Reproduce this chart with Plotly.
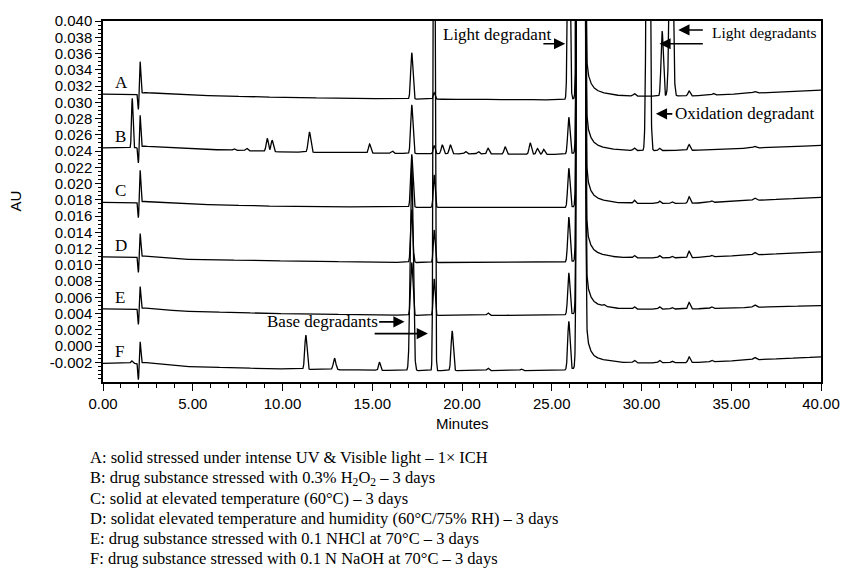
import numpy as np
import plotly.graph_objects as go

# ---- chromatogram data (retention time in minutes, response in AU) ----
labels = ["A", "B", "C", "D", "E", "F"]

# baseline drift anchors shared by all runs
base_t = [0, 1.8, 2.3, 4.5, 10, 17, 25.5, 28, 33, 40]
base_A = [0.0310, 0.0310, 0.0312, 0.0309, 0.0306, 0.0304, 0.0303, 0.0307, 0.0308, 0.0315]
base_B = [0.0244, 0.0244, 0.0246, 0.0243, 0.0239, 0.0237, 0.0236, 0.0240, 0.0241, 0.0247]
base_C = [0.0177, 0.0177, 0.0178, 0.0175, 0.0172, 0.0171, 0.0170, 0.0175, 0.0176, 0.0183]
base_D = [0.0110, 0.0110, 0.0111, 0.0107, 0.0105, 0.0103, 0.0103, 0.0108, 0.0109, 0.0116]
base_E = [0.0046, 0.0046, 0.0047, 0.0043, 0.0040, 0.0038, 0.0038, 0.0045, 0.0046, 0.0050]
base_F = [-0.0021, -0.0021, -0.0020, -0.0025, -0.0028, -0.0030, -0.0030, -0.0021, -0.0020, -0.0013]

# peak tables: retention time, height above baseline, width (sigma)
rt_A = [1.97, 2.07, 17.2, 18.45, 25.95, 29.6, 31.15, 31.65, 32.65, 34.0, 36.3]
h_A = [-0.0020, 0.0039, 0.0057, 0.0008, 0.030, 0.0003, 0.0080, 0.030, 0.0006, 0.0002, 0.0002]
w_A = [0.03, 0.035, 0.06, 0.05, 0.06, 0.06, 0.06, 0.085, 0.06, 0.06, 0.08]

rt_B = [1.63, 1.97, 2.07, 7.3, 8.0, 9.15, 9.42, 11.5, 14.85, 16.1, 17.2, 18.45, 18.9, 19.35,
        20.2, 20.9, 21.45, 22.4, 23.8, 24.2, 24.55, 25.95, 29.6, 30.37, 31.0, 32.65, 36.3]
h_B = [0.0061, -0.0020, 0.0039, 0.0002, 0.0003, 0.0016, 0.0014, 0.0025, 0.0011, 0.0003, 0.0060,
       0.0010, 0.0011, 0.0011, 0.0003, 0.0003, 0.0007, 0.0009, 0.0014, 0.0007, 0.0006, 0.0045,
       0.0003, 0.080, 0.0003, 0.0007, 0.0002]
w_B = [0.04, 0.03, 0.035, 0.06, 0.06, 0.06, 0.06, 0.07, 0.06, 0.06, 0.06, 0.05, 0.06, 0.06,
       0.06, 0.06, 0.06, 0.06, 0.06, 0.06, 0.06, 0.06, 0.06, 0.075, 0.06, 0.06, 0.08]

rt_C = [1.97, 2.07, 17.2, 18.45, 25.95, 29.6, 31.0, 31.7, 32.65, 33.9, 36.3]
h_C = [-0.0020, 0.0039, 0.0065, 0.0040, 0.0048, 0.0004, 0.0003, 0.0002, 0.0008, 0.0002, 0.0003]
w_C = [0.03, 0.035, 0.06, 0.05, 0.06, 0.06, 0.06, 0.06, 0.06, 0.06, 0.08]

rt_D = [1.97, 2.07, 17.2, 18.45, 25.95, 29.6, 31.0, 31.7, 32.65, 33.9, 36.3]
h_D = [-0.0020, 0.0028, 0.0065, 0.0040, 0.0055, 0.0003, 0.0003, 0.0002, 0.0008, 0.0002, 0.0003]
w_D = [0.03, 0.035, 0.06, 0.05, 0.06, 0.06, 0.06, 0.06, 0.06, 0.06, 0.08]

rt_E = [1.97, 2.07, 17.2, 18.45, 21.45, 25.95, 27.9, 29.6, 31.0, 31.7, 32.65, 33.9, 36.3]
h_E = [-0.0020, 0.0027, 0.0065, 0.0045, 0.0003, 0.0051, 0.0002, 0.0003, 0.0003, 0.0002, 0.0008, 0.0002, 0.0003]
w_E = [0.03, 0.035, 0.06, 0.05, 0.06, 0.06, 0.06, 0.06, 0.06, 0.06, 0.06, 0.06, 0.08]

rt_F = [1.6, 1.97, 2.07, 11.3, 12.9, 15.4, 17.2, 18.45, 19.45, 21.45, 23.3, 25.95,
        29.6, 31.0, 31.7, 32.65, 33.9, 36.3]
h_F = [0.0003, -0.0021, 0.0026, 0.0042, 0.0014, 0.0010, 0.0258, 0.100, 0.0049, 0.0003, 0.0002, 0.0059,
       0.0003, 0.0003, 0.0002, 0.0007, 0.0002, 0.0003]
w_F = [0.05, 0.03, 0.035, 0.06, 0.07, 0.05, 0.08, 0.045, 0.06, 0.06, 0.06, 0.06,
       0.06, 0.06, 0.06, 0.06, 0.06, 0.08]

# drug substance peak (off scale) with its tailing
main_rt = 26.62
main_h = 3.0
main_w = 0.085
tail_h = [0.020, 0.003]
tail_tau = [0.15, 0.70]

x_tick_vals = [0, 5, 10, 15, 20, 25, 30, 35, 40]
x_tick_labels = ["0.00", "5.00", "10.00", "15.00", "20.00", "25.00", "30.00", "35.00", "40.00"]
y_tick_vals = [-0.002, 0.000, 0.002, 0.004, 0.006, 0.008, 0.010, 0.012, 0.014, 0.016, 0.018,
               0.020, 0.022, 0.024, 0.026, 0.028, 0.030, 0.032, 0.034, 0.036, 0.038, 0.040]
y_tick_labels = ["-0.002", "0.000", "0.002", "0.004", "0.006", "0.008", "0.010", "0.012",
                 "0.014", "0.016", "0.018", "0.020", "0.022", "0.024", "0.026", "0.028",
                 "0.030", "0.032", "0.034", "0.036", "0.038", "0.040"]

caption_lines = [
    "A: solid stressed under intense UV &amp; Visible light – 1× ICH",
    "B: drug substance stressed with 0.3% H<sub>2</sub>O<sub>2</sub> – 3 days",
    "C: solid at elevated temperature (60°C) – 3 days",
    "D: solidat elevated temperature and humidity (60°C/75% RH) – 3 days",
    "E: drug substance stressed with 0.1 NHCl at 70°C – 3 days",
    "F: drug substance stressed with 0.1 N NaOH at 70°C – 3 days",
]

# ---- build the traces ----
t = np.arange(0, 40.0001, 0.005)


def chromatogram(base, rts, hs, ws):
    y = np.interp(t, base_t, base)
    for r, h, w in zip(rts, hs, ws):
        y = y + h * np.exp(-((t - r) ** 2) / (2 * w * w))
    y = y + main_h * np.exp(-((t - main_rt) ** 2) / (2 * main_w * main_w))
    dt = np.clip(t - main_rt, 0, None)
    tail = sum(a * np.exp(-dt / tau) for a, tau in zip(tail_h, tail_tau))
    y = y + np.where(t > main_rt, tail, 0.0)
    return y


runs = {
    "A": (base_A, rt_A, h_A, w_A),
    "B": (base_B, rt_B, h_B, w_B),
    "C": (base_C, rt_C, h_C, w_C),
    "D": (base_D, rt_D, h_D, w_D),
    "E": (base_E, rt_E, h_E, w_E),
    "F": (base_F, rt_F, h_F, w_F),
}

fig = go.Figure()
for name in labels:
    b, r, h, w = runs[name]
    fig.add_trace(go.Scatter(
        x=t, y=chromatogram(b, r, h, w), mode="lines", name=name,
        line=dict(color="black", width=1.3), showlegend=False, hoverinfo="skip",
    ))

serif = "Liberation Serif, Times New Roman, serif"
sans = "Liberation Sans, Arial, sans-serif"

annotations = []

# run letters sitting on each baseline
for name in labels:
    annotations.append(dict(
        x=0.55, y=runs[name][0][0], xref="x", yref="y", text=name, showarrow=False,
        xanchor="left", yanchor="bottom", font=dict(family=serif, size=17, color="black"),
    ))

# peak call-outs
callouts = [
    ("Light degradant", 18.85, 0.0384, 17),
    ("Light degradants", 33.8, 0.0386, 15.5),
    ("Oxidation degradant", 31.75, 0.0286, 17),
    ("Base degradants", 9.0, 0.0030, 17),
]
for text, x, y, size in callouts:
    annotations.append(dict(
        x=x, y=y, xref="x", yref="y", text=text, showarrow=False, xanchor="left",
        yanchor="middle", font=dict(family=serif, size=size, color="black"),
    ))

arrows = [
    # (tail x, tail y, head x, head y)
    (24.45, 0.0372, 25.75, 0.0372),
    (33.5, 0.0389, 32.05, 0.0389),
    (33.5, 0.0372, 31.0, 0.0372),
    (31.8, 0.02858, 30.8, 0.02858),
    (15.3, 0.00300, 16.8, 0.00300),
    (15.05, 0.00155, 18.1, 0.00155),
]
for tx, ty, hx, hy in arrows:
    annotations.append(dict(
        x=hx, y=hy, ax=tx, ay=ty, xref="x", yref="y", axref="x", ayref="y", text="",
        showarrow=True, arrowhead=2, arrowsize=1.4, arrowwidth=1.6, arrowcolor="black",
    ))

# axis titles
annotations.append(dict(
    x=0.5, y=-0.116, xref="paper", yref="paper", text="Minutes", showarrow=False,
    xanchor="center", yanchor="middle", font=dict(family=sans, size=15, color="black"),
))
annotations.append(dict(
    x=-0.1224, y=0.5, xref="paper", yref="paper", text="AU", showarrow=False,
    textangle=-90, xanchor="center", yanchor="middle",
    font=dict(family=sans, size=15, color="black"),
))

# condition legend under the plot
caption_y_px = [458, 478.3, 498.6, 518.9, 539.2, 559.0]
for line, py in zip(caption_lines, caption_y_px):
    annotations.append(dict(
        x=(88 - 103) / 727, y=(382 - py) / 362, xref="paper", yref="paper", text=line,
        showarrow=False, xanchor="left", yanchor="middle",
        font=dict(family=serif, size=16.5, color="black"),
    ))

fig.update_layout(
    width=852, height=570,
    margin=dict(l=103, r=22, t=20, b=188),
    paper_bgcolor="white", plot_bgcolor="white",
    annotations=annotations,
    xaxis=dict(
        range=[0, 40], tickmode="array", tickvals=x_tick_vals, ticktext=x_tick_labels,
        ticks="outside", ticklen=7, tickwidth=1.2, tickcolor="black",
        minor=dict(tickmode="linear", tick0=0, dtick=1, ticks="outside", ticklen=4,
                   tickwidth=1, tickcolor="black", showgrid=False),
        showline=True, linecolor="black", linewidth=1.5, mirror=True,
        showgrid=False, zeroline=False,
        tickfont=dict(family=sans, size=15, color="black"),
    ),
    yaxis=dict(
        range=[-0.0044, 0.040], tickmode="array", tickvals=y_tick_vals, ticktext=y_tick_labels,
        ticks="outside", ticklen=6, tickwidth=1.2, tickcolor="black",
        minor=dict(tickmode="linear", tick0=0, dtick=0.0005, ticks="outside", ticklen=3,
                   tickwidth=1, tickcolor="black", showgrid=False),
        showline=True, linecolor="black", linewidth=1.5, mirror=True,
        showgrid=False, zeroline=False,
        tickfont=dict(family=sans, size=15, color="black"),
    ),
)

fig.write_html("out.html")
